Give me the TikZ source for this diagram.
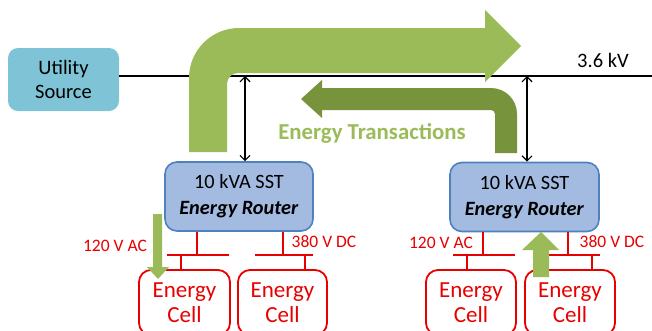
\documentclass[tikz,border=0pt]{standalone}
\usepackage{fontspec}
\setmainfont{Carlito}
\usetikzlibrary{arrows.meta}
\definecolor{lgreen}{RGB}{155,187,89}
\definecolor{dgreen}{RGB}{119,147,60}
\definecolor{utilblue}{RGB}{127,196,214}
\definecolor{routerfill}{RGB}{163,187,224}
\definecolor{routerdraw}{RGB}{79,129,189}
\definecolor{cellred}{RGB}{232,0,0}
\begin{document}
\begin{tikzpicture}[x=1pt,y=-1pt,
  utilbox/.style={fill=utilblue,rounded corners=10pt,minimum width=111pt,minimum height=63pt,align=center,inner sep=0pt,font=\fontsize{20.5}{24}\selectfont},
  router/.style={fill=routerfill,draw=routerdraw,line width=1.6pt,rounded corners=12pt,minimum height=69pt,align=center,inner sep=0pt,font=\fontsize{20.3}{26}\selectfont},
  cell/.style={draw=cellred,text=cellred,line width=1.8pt,rounded corners=12pt,minimum height=65pt,align=center,inner sep=0pt,font=\fontsize{23}{25}\selectfont},
  bus/.style={line width=2.6pt,black},
  dbl/.style={line width=1.2pt,{Straight Barb[length=5pt,width=10pt]}-{Straight Barb[length=5pt,width=10pt]}},
  feed/.style={draw=cellred,line width=1.6pt},
  vlabel/.style={text=cellred,inner sep=0pt,font=\fontsize{17.5}{20}\selectfont},
]
\useasboundingbox (0,0) rectangle (652,330);
\clip (0,0) rectangle (652,330);

% nodes
\node[utilbox] (util) at (63.5,79.5) {\raisebox{-2pt}{Utility}\\\raisebox{-2pt}{Source}};
\node[router,minimum width=148pt] (r1) at (239,196.5) {10 kVA SST\\\textbf{\textit{Energy Router}}};
\node[router,minimum width=149pt] (r2) at (524.5,197) {10 kVA SST\\\textbf{\textit{Energy Router}}};
\node[cell,minimum width=91pt] (c1) at (184.5,302.5) {Energy\\Cell};
\node[cell,minimum width=89pt] (c2) at (282.5,302.5) {Energy\\Cell};
\node[cell,minimum width=90pt] (c3) at (471,302.5) {Energy\\Cell};
\node[cell,minimum width=90pt] (c4) at (570,302.5) {Energy\\Cell};

% dark green arrow (below the bus line)
\fill[dgreen] (322,110) -- (322,118) -- (301,99) -- (322,80) -- (322,88) -- (491,88)
  .. controls (505.4,88) and (517,99.6) .. (517,114) -- (517,153) -- (495,153) -- (495,114)
  .. controls (495,111.8) and (493.2,110) .. (491,110) -- cycle;

% bus
\coordinate (busR) at (652,76);
\draw[bus] (util.east |- busR) -- (busR);
\node[inner sep=0pt,font=\fontsize{20.5}{24}\selectfont] (kv) at (603,60) {3.6 kV};

% light green arrow (over the bus line)
\fill[lgreen] (189,152) -- (189,78) .. controls (189,50.4) and (211.4,28) .. (239,28)
  -- (485,28) -- (485,10) -- (521,46) -- (485,82) -- (485,73) -- (238,73)
  .. controls (231.9,73) and (227,77.9) .. (227,84) -- (227,152) -- cycle;

\node[text=lgreen,inner sep=0pt,font=\fontsize{22.8}{26}\selectfont\bfseries] (et) at (372,133) {Energy Transactions};

% double arrows
\coordinate (t1) at (245,76);
\coordinate (t2) at (527,76);
\draw[dbl] (t1) -- (t1 |- r1.north);
\draw[dbl] (t2) -- (t2 |- r2.north);

% feeders router 1
\coordinate (f1) at (197,255); \coordinate (b1l) at (167,255); \coordinate (b1r) at (229,255); \coordinate (d1) at (181,255);
\draw[feed] (f1 |- r1.south) -- (f1);
\draw[feed] (b1l) -- (b1r);
\draw[feed] (d1) -- (d1 |- c1.north);
\coordinate (f2) at (283,255); \coordinate (b2l) at (255,255); \coordinate (b2r) at (313,255); \coordinate (d2) at (305,255);
\draw[feed] (f2 |- r1.south) -- (f2);
\draw[feed] (b2l) -- (b2r);
\draw[feed] (d2) -- (d2 |- c2.north);
% feeders router 2
\coordinate (f3) at (483,255); \coordinate (b3l) at (453,255); \coordinate (b3r) at (515,255); \coordinate (d3) at (467,255);
\draw[feed] (f3 |- r2.south) -- (f3);
\draw[feed] (b3l) -- (b3r);
\draw[feed] (d3) -- (d3 |- c3.north);
\coordinate (f4) at (568,255); \coordinate (b4l) at (549,255); \coordinate (b4r) at (600,255); \coordinate (d4) at (592,255);
\draw[feed] (f4 |- r2.south) -- (f4);
\draw[feed] (b4l) -- (b4r);
\draw[feed] (d4) -- (d4 |- c4.north);

% voltage labels
\node[vlabel] (l1) at (115,246) {120 V AC};
\node[vlabel] (l2) at (324,242) {380 V DC};
\node[vlabel] (l3) at (441,243) {120 V AC};
\node[vlabel] (l4) at (612,242) {380 V DC};

% small flow arrows
\fill[lgreen] (153,214) -- (153,267) -- (147,267) -- (158,279) -- (169,267) -- (162,267) -- (162,214) -- cycle;
\fill[lgreen] (533,277) -- (533,250) -- (522,250) -- (541,232) -- (559,250) -- (549,250) -- (549,277) -- cycle;
\end{tikzpicture}
\end{document}
